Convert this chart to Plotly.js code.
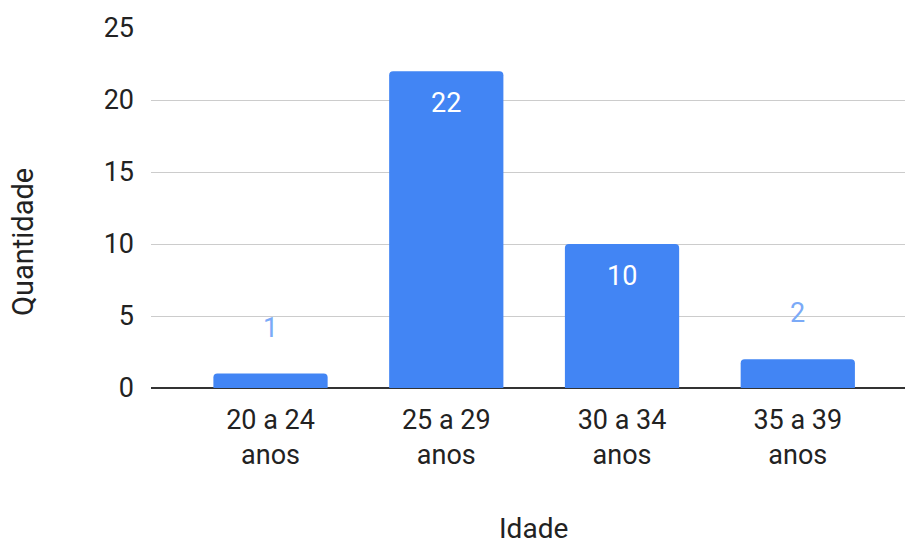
<!DOCTYPE html>
<html><head><meta charset="utf-8">
<script src="https://cdn.plot.ly/plotly-3.0.1.min.js"></script>
<style>html,body{margin:0;padding:0;background:#fff}#c{width:906px;height:544px}</style>
</head><body><div id="c"></div>
<script>
var categories = ["20 a 24<br>anos", "25 a 29<br>anos", "30 a 34<br>anos", "35 a 39<br>anos"];
var quantidade = [1, 22, 10, 2];
var yTicks = [0, 5, 10, 15, 20, 25];
var xTitle = "Idade";
var yTitle = "Quantidade";

var barColor = "#4285f4";
var fontFam = "Roboto, Arial, sans-serif";
var annotations = quantidade.map(function (v, i) {
  var inside = v > 5;
  return {
    x: i, y: v, xref: "x", yref: "y", text: String(v), showarrow: false,
    yanchor: "middle", yshift: inside ? -32 : 46,
    font: {family: fontFam, size: 27, color: inside ? "#ffffff" : "#7baaf7"}
  };
});
annotations.push({
  text: yTitle, xref: "paper", yref: "paper", x: 0, y: 0.4056, xshift: -128,
  xanchor: "center", yanchor: "middle", textangle: -90, showarrow: false,
  font: {family: fontFam, size: 29, color: "#222"}
});
annotations.push({
  text: xTitle, xref: "paper", yref: "paper", x: 0.507, y: -0.39,
  xanchor: "center", yanchor: "middle", showarrow: false, borderpad: 0,
  font: {family: fontFam, size: 28, color: "#222"}
});

var trace = {
  type: "bar", x: [0, 1, 2, 3], y: quantidade,
  marker: {color: barColor, cornerradius: 4},
  width: 0.65, hoverinfo: "none"
};

var layout = {
  width: 906, height: 544,
  margin: {l: 151, r: 1, t: 28, b: 156},
  paper_bgcolor: "#fff", plot_bgcolor: "#fff",
  font: {family: fontFam, size: 27, color: "#222"},
  showlegend: false,
  xaxis: {
    range: [-0.68, 3.61], tickmode: "array", tickvals: [0, 1, 2, 3], ticktext: categories,
    showgrid: false, zeroline: false, showline: false, ticks: "",
    ticklabelstandoff: 13,
    tickfont: {size: 27, color: "#222"}
  },
  yaxis: {
    range: [0, 25], tickmode: "array", tickvals: yTicks,
    showgrid: true, gridcolor: "#cccccc", gridwidth: 1,
    zeroline: true, zerolinecolor: "#333333", zerolinewidth: 2,
    showline: false, ticks: "", ticklabelstandoff: 16,
    tickfont: {size: 27, color: "#222"}
  },
  annotations: annotations
};
Plotly.newPlot("c", [trace], layout, {displayModeBar: false, staticPlot: true});
</script>
</body></html>
